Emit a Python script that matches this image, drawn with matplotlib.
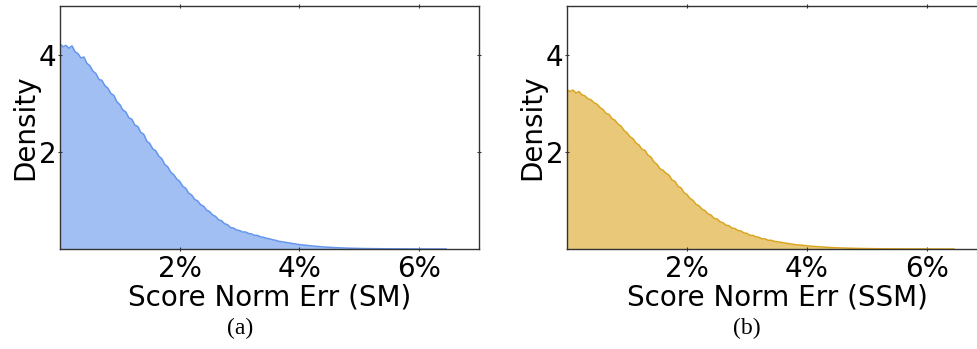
import numpy as np
import matplotlib
matplotlib.use('Agg')
import matplotlib.pyplot as plt

# ── Data (density per 0.05% bin) ─────────────────────────────────────────────
bin_width = 0.05  # percent
sm_density = [
    4.22, 4.16, 4.19, 4.13, 4.18, 4.06, 4.02, 3.93, 3.95, 3.82,
    3.77, 3.66, 3.61, 3.49, 3.47, 3.36, 3.31, 3.20, 3.16, 3.03,
    2.97, 2.86, 2.82, 2.70, 2.67, 2.55, 2.52, 2.40, 2.36, 2.22,
    2.17, 2.06, 2.02, 1.91, 1.86, 1.74, 1.69, 1.58, 1.53, 1.44,
    1.39, 1.29, 1.25, 1.15, 1.11, 1.02, 0.99, 0.91, 0.88, 0.80,
    0.77, 0.70, 0.67, 0.60, 0.58, 0.52, 0.50, 0.44, 0.43, 0.39,
    0.38, 0.35, 0.35, 0.32, 0.31, 0.28, 0.28, 0.25, 0.24, 0.22,
    0.21, 0.19, 0.18, 0.16, 0.15, 0.14, 0.13, 0.12, 0.11, 0.10,
    0.09, 0.085, 0.078, 0.07, 0.064, 0.058, 0.052, 0.046, 0.042, 0.038,
    0.034, 0.031, 0.028, 0.025, 0.022, 0.020, 0.018, 0.016, 0.014, 0.013,
    0.012, 0.010, 0.009, 0.008, 0.007, 0.007, 0.006, 0.005, 0.005, 0.004,
    0.004, 0.003, 0.003, 0.003, 0.002, 0.002, 0.002, 0.002, 0.001, 0.001,
    0.001, 0.001, 0.001, 0.001, 0.001, 0.0, 0.0, 0.0, 0.0, 0.0,
]
ssm_density = [
    3.28, 3.24, 3.27, 3.21, 3.24, 3.17, 3.15, 3.09, 3.07, 3.01,
    2.98, 2.91, 2.87, 2.79, 2.77, 2.68, 2.65, 2.57, 2.53, 2.44,
    2.39, 2.31, 2.27, 2.18, 2.14, 2.05, 2.03, 1.93, 1.89, 1.79,
    1.74, 1.65, 1.62, 1.56, 1.52, 1.42, 1.39, 1.29, 1.26, 1.16,
    1.12, 1.04, 1.00, 0.92, 0.89, 0.82, 0.79, 0.72, 0.70, 0.63,
    0.62, 0.56, 0.54, 0.49, 0.48, 0.43, 0.42, 0.38, 0.37, 0.33,
    0.32, 0.28, 0.28, 0.25, 0.24, 0.21, 0.21, 0.18, 0.18, 0.16,
    0.15, 0.14, 0.13, 0.12, 0.11, 0.10, 0.09, 0.085, 0.08, 0.072,
    0.066, 0.06, 0.055, 0.05, 0.045, 0.041, 0.037, 0.033, 0.030, 0.027,
    0.024, 0.022, 0.020, 0.018, 0.016, 0.014, 0.013, 0.011, 0.010, 0.009,
    0.008, 0.007, 0.006, 0.006, 0.005, 0.004, 0.004, 0.003, 0.003, 0.003,
    0.002, 0.002, 0.002, 0.001, 0.001, 0.001, 0.001, 0.001, 0.001, 0.001,
    0.001, 0.001, 0.0, 0.0, 0.0, 0.0, 0.0, 0.0, 0.0, 0.0,
]
xticks = [2, 4, 6]
xtick_labels = ['2%', '4%', '6%']
yticks = [2, 4]
xlabels = ['Score Norm Err (SM)', 'Score Norm Err (SSM)']
captions = ['(a)', '(b)']

W, H = 977, 349
fig = plt.figure(figsize=(W / 100, H / 100), dpi=100)

# axes boxes in pixels: left, top, right, bottom
boxes = [(60, 6, 479, 249), (567, 6, 987, 249)]
styles = [('#a2bff3', '#6495ed'), ('#e9c979', '#daa520')]
series = [sm_density, ssm_density]
cap_x = [240, 747]
fs = 20

for box, (fc, lc), vals, xl, cap, cx in zip(boxes, styles, series, xlabels, captions, cap_x):
    l, t, r, b = box
    ax = fig.add_axes([l / W, 1 - b / H, (r - l) / W, (b - t) / H])
    vals = np.array(vals)
    x = np.arange(len(vals)) * bin_width
    ax.fill_between(x, vals, 0, color=fc, lw=0)
    ax.plot(x, vals, color=lc, lw=1.1)
    ax.set_xlim(0, 7)
    ax.set_ylim(0, 5)
    ax.set_xticks(xticks)
    ax.set_xticklabels(xtick_labels)
    ax.set_yticks(yticks)
    ax.tick_params(direction='inout', length=3, width=0.8, top=True, right=True,
                   labelsize=fs, color='#333333')
    ax.tick_params(axis='x', pad=3)
    ax.tick_params(axis='y', pad=1)
    for s in ax.spines.values():
        s.set_color('#333333')
        s.set_linewidth(1.0)
    ax.set_xlabel(xl, fontsize=fs, labelpad=0)
    ax.set_ylabel('Density', fontsize=fs, labelpad=0)
    fig.text(cx / W, 1 - 328 / H, cap, ha='center', va='center',
             family='Liberation Serif', fontsize=17)

fig.savefig('out.png', dpi=100)
